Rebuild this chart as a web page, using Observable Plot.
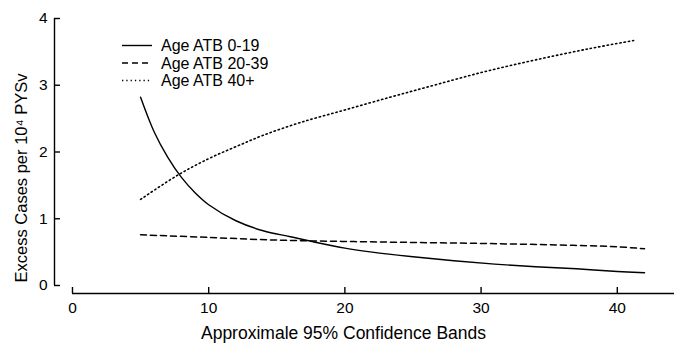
<!DOCTYPE html>
<html><head><meta charset="utf-8">
<script src="https://cdn.jsdelivr.net/npm/d3@7"></script>
<script src="https://cdn.jsdelivr.net/npm/@observablehq/plot@0.6"></script>
<style>html,body{margin:0;padding:0;background:#fff}svg{display:block}</style>
</head><body><div id="chart"></div>
<script>
// ---- data ----
const seriesNames = ["Age ATB 0-19", "Age ATB 20-39", "Age ATB 40+"];
const x0to19 = [5, 6, 7, 8, 9, 10, 12, 14, 16, 18, 20, 22, 25, 28, 31, 34, 37, 40, 42];
const y0to19 = [2.82, 2.30, 1.92, 1.62, 1.39, 1.21, 0.97, 0.82, 0.73, 0.64, 0.56, 0.50, 0.43, 0.37, 0.32, 0.28, 0.25, 0.21, 0.19];
const x20to39 = [5, 10, 15, 20, 25, 30, 35, 40, 42];
const y20to39 = [0.76, 0.72, 0.68, 0.66, 0.645, 0.63, 0.61, 0.58, 0.55];
const x40plus = [5, 7.7, 10, 12, 14, 16.7, 20, 23.3, 26, 30, 34, 38, 41.2];
const y40plus = [1.29, 1.65, 1.90, 2.08, 2.25, 2.44, 2.63, 2.82, 2.97, 3.19, 3.38, 3.55, 3.67];
const xTicks = [0, 10, 20, 30, 40];
const yTicks = [0, 1, 2, 3, 4];
const xTitle = "Approximale 95% Confidence Bands";
const yTitle = "Excess Cases per 10\u2074 PYSv";

// ---- build tables ----
const toRows = (xs, ys, s) => xs.map((x, i) => ({x, y: ys[i], s}));
const rows019 = toRows(x0to19, y0to19, seriesNames[0]);
const rows2039 = toRows(x20to39, y20to39, seriesNames[1]);
const rows40 = toRows(x40plus, y40plus, seriesNames[2]);

const styles = [
  {dash: null, width: 1.4},
  {dash: "6,4", width: 1.5},
  {dash: "1.3,3", width: 1.6}
];

const W = 674, H = 345;
const xDomain = [-1.32, 44.2];
const FONT = "'Liberation Sans', Arial, Helvetica, sans-serif";

const chart = Plot.plot({
  width: W, height: H,
  marginLeft: 54, marginRight: 0, marginTop: 18, marginBottom: 60,
  style: {fontFamily: FONT, fontSize: "15px", color: "#000", background: "#fff", overflow: "visible"},
  x: {domain: xDomain},
  y: {domain: [0, 4]},
  marks: [
    Plot.ruleX([xDomain[0]], {y1: 0, y2: 4, stroke: "#000", strokeWidth: 1.4}),
    Plot.ruleY([0], {x1: 0, x2: xDomain[1], dy: 8, stroke: "#000", strokeWidth: 1.4}),
    Plot.axisY(yTicks, {tickSize: -6, tickPadding: 13, strokeWidth: 1.4, label: null, fontSize: 15.5, tickFormat: d3.format("d")}),
    Plot.axisX(xTicks, {tickSize: -6, dy: 8, tickPadding: 14, strokeWidth: 1.4, label: null, fontSize: 15.5, tickFormat: d3.format("d")}),
    Plot.line(rows019, {x: "x", y: "y", curve: "catmull-rom", stroke: "#000", strokeWidth: styles[0].width}),
    Plot.line(rows2039, {x: "x", y: "y", curve: "catmull-rom", stroke: "#000", strokeWidth: styles[1].width, strokeDasharray: styles[1].dash}),
    Plot.line(rows40, {x: "x", y: "y", curve: "catmull-rom", stroke: "#000", strokeWidth: styles[2].width, strokeDasharray: styles[2].dash}),
    Plot.text([xTitle], {frameAnchor: "bottom", dx: -21, dy: 48, fontSize: 17.5, lineAnchor: "middle"})
  ]
});

const svg = d3.select(chart);

// ---- rotated y-axis title ----
svg.append("text")
  .attr("transform", "translate(21,178) rotate(-90)")
  .attr("text-anchor", "middle").attr("dy", "0.35em")
  .attr("font-family", FONT).attr("font-size", 16.5).attr("fill", "#000")
  .text(yTitle);

// ---- in-plot legend (top-left) ----
const lg = svg.append("g").attr("font-family", FONT).attr("font-size", 16).attr("text-anchor", "start");
seriesNames.forEach((name, i) => {
  const y = 45.5 + i * 17.5;
  lg.append("line").attr("x1", 122).attr("x2", 152).attr("y1", y).attr("y2", y)
    .attr("stroke", "#000").attr("stroke-width", styles[i].width)
    .attr("stroke-dasharray", styles[i].dash);
  lg.append("text").attr("x", 161).attr("y", y).attr("dy", "0.35em").attr("fill", "#000").text(name);
});

document.getElementById("chart").appendChild(chart);
</script>
</body></html>
